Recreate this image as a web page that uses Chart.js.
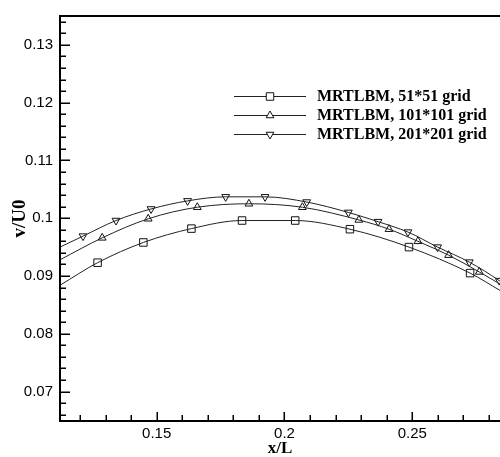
<!DOCTYPE html>
<html>
<head>
<meta charset="utf-8">
<script src="https://cdn.jsdelivr.net/npm/chart.js@4.4.0/dist/chart.umd.min.js"></script>
<style>
html, body { margin: 0; padding: 0; background: #fff; }
#wrap { width: 500px; height: 457px; }
</style>
</head>
<body>
<div id="wrap"><canvas id="grafica" width="500" height="457"></canvas></div>
<script>
// marker points
const x51 = [0.1269, 0.1448, 0.1636, 0.1834, 0.2042, 0.2256, 0.2487, 0.2726];
const y51 = [0.0923, 0.0958, 0.0982, 0.0996, 0.0996, 0.0981, 0.0950, 0.0905];
const x101 = [0.1287, 0.1467, 0.1659, 0.1861, 0.2070, 0.2291, 0.2409, 0.2522, 0.2642, 0.2762];
const y101 = [0.0966, 0.0999, 0.1019, 0.1025, 0.1019, 0.0997, 0.0981, 0.0960, 0.0936, 0.0907];
const x201 = [0.1212, 0.1341, 0.1478, 0.1621, 0.1770, 0.1924, 0.2087, 0.2250, 0.2366, 0.2483, 0.2599, 0.2723, 0.2840];
const y201 = [0.0969, 0.0996, 0.1016, 0.1030, 0.1037, 0.1037, 0.1028, 0.1010, 0.0994, 0.0976, 0.0950, 0.0924, 0.0892];
// where each curve meets the left and right edge of the frame
const xEdge = [0.1122, 0.2843];
const yEdge51 = [0.0884, 0.0875];
const yEdge101 = [0.0928, 0.0886];
const yEdge201 = [0.0950, 0.0891];

const nombres = ['MRTLBM, 51*51 grid', 'MRTLBM, 101*101 grid', 'MRTLBM, 201*201 grid'];
const xTicks = [0.15, 0.2, 0.25];
const yTicks = [0.07, 0.08, 0.09, 0.1, 0.11, 0.12, 0.13];

function puntos(xs, ys) {
    return xs.map((x, i) => ({ x: x, y: ys[i] }));
}
function curva(xs, ys, ye) {
    return [{ x: xEdge[0], y: ye[0] }].concat(puntos(xs, ys), [{ x: xEdge[1], y: ye[1] }]);
}

const simbolos = [
    { pointStyle: 'rect', radius: 5.3, rotation: 0 },
    { pointStyle: 'triangle', radius: 4.5, rotation: 0 },
    { pointStyle: 'triangle', radius: 4.5, rotation: 180 }
];

function linea(data) {
    return {
        data: data, showLine: true, borderColor: '#222', borderWidth: 1, pointRadius: 0,
        cubicInterpolationMode: 'monotone', fill: false
    };
}
function marcas(data, s) {
    return {
        data: data, showLine: false, pointStyle: s.pointStyle, pointRadius: s.radius,
        rotation: s.rotation, backgroundColor: '#fff', borderColor: '#111', borderWidth: 1
    };
}

const marco = {
    id: 'marco',
    afterDatasetsDraw(chart) {
        const { ctx, chartArea: a, scales: { x, y } } = chart;
        ctx.save();
        ctx.strokeStyle = '#000';
        ctx.lineWidth = 2;
        ctx.beginPath();
        ctx.moveTo(a.right, a.top);
        ctx.lineTo(a.left, a.top);
        ctx.lineTo(a.left, a.bottom);
        ctx.lineTo(a.right, a.bottom);
        ctx.stroke();

        ctx.lineWidth = 1.5;
        ctx.beginPath();
        for (let k = 33; k <= 67; k++) {
            const py = Math.round(y.getPixelForValue(k / 500)) + 0.25;
            const len = k % 5 === 0 ? 10 : 6;
            ctx.moveTo(a.left, py);
            ctx.lineTo(a.left + len, py);
        }
        for (let k = 12; k <= 28; k++) {
            const px = Math.round(x.getPixelForValue(k / 100)) + 0.25;
            const len = k % 5 === 0 ? 9 : 6;
            ctx.moveTo(px, a.bottom);
            ctx.lineTo(px, a.bottom - len);
        }
        ctx.stroke();

        // leyenda
        ctx.font = 'bold 16px "Liberation Serif"';
        ctx.textBaseline = 'middle';
        ctx.textAlign = 'left';
        nombres.forEach((n, i) => {
            const ly = 96 + i * 19;
            ctx.strokeStyle = '#222';
            ctx.lineWidth = 1;
            ctx.beginPath();
            ctx.moveTo(234, ly + 0.5);
            ctx.lineTo(306, ly + 0.5);
            ctx.stroke();
            ctx.fillStyle = '#fff';
            ctx.strokeStyle = '#111';
            Chart.helpers.drawPoint(ctx, { pointStyle: simbolos[i].pointStyle, radius: simbolos[i].radius,
                rotation: simbolos[i].rotation, borderWidth: 1 }, 270, ly + 0.5);
            ctx.fillStyle = '#000';
            ctx.fillText(n, 317, ly + 1);
        });
        ctx.restore();
    }
};

const fmt = v => String(+Number(v).toFixed(2));

new Chart(document.getElementById('grafica').getContext('2d'), {
    type: 'scatter',
    data: {
        datasets: [
            linea(curva(x51, y51, yEdge51)),
            linea(curva(x101, y101, yEdge101)),
            linea(curva(x201, y201, yEdge201)),
            marcas(puntos(x51, y51), simbolos[0]),
            marcas(puntos(x101, y101), simbolos[1]),
            marcas(puntos(x201, y201), simbolos[2])
        ]
    },
    options: {
        responsive: false,
        animation: false,
        layout: { autoPadding: false, padding: { top: 13, right: 0, bottom: 0, left: 0 } },
        plugins: { legend: { display: false }, tooltip: { enabled: false } },
        scales: {
            x: {
                type: 'linear', min: 0.1122, max: 0.2843,
                afterBuildTicks: s => { s.ticks = xTicks.map(v => ({ value: v })); },
                afterFit: s => { s.height = 36; },
                grid: { display: false, drawTicks: false },
                border: { display: false },
                ticks: { callback: fmt, color: '#000', padding: 4, maxRotation: 0, autoSkip: false,
                    font: { family: '"Liberation Sans"', size: 15 } },
                title: { display: true, text: 'x/L', color: '#000', padding: { top: 0, bottom: 0 },
                    font: { family: '"Liberation Serif"', weight: 'bold', size: 17, lineHeight: 1 } }
            },
            y: {
                type: 'linear', min: 0.0649, max: 0.135,
                afterBuildTicks: s => { s.ticks = yTicks.map(v => ({ value: v })); },
                afterFit: s => { s.width = 60; },
                grid: { display: false, drawTicks: false },
                border: { display: false },
                ticks: { callback: fmt, color: '#000', padding: 7, autoSkip: false,
                    font: { family: '"Liberation Sans"', size: 15 } },
                title: { display: true, text: 'v/U0', color: '#000', padding: { top: 11, bottom: 0 },
                    font: { family: '"Liberation Serif"', weight: 'bold', size: 19, lineHeight: 1 } }
            }
        }
    },
    plugins: [marco]
});
</script>
</body>
</html>
